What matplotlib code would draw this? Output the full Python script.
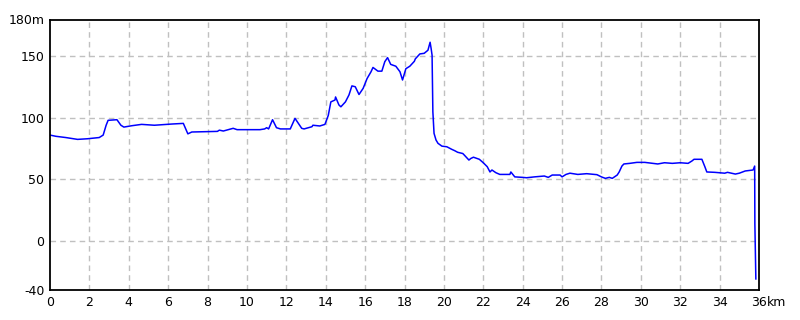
import matplotlib.pyplot as plt

# elevation profile: distance (km) vs altitude (m)
dist_km = [0.0, 0.3, 0.8, 1.4, 1.9, 2.5, 2.7, 2.85, 2.95, 3.4, 3.6, 3.75, 4.15, 4.65,
           5.3, 6.2, 6.77, 7.0, 7.2, 7.8, 8.5, 8.6, 8.8, 9.3, 9.5, 10.66, 10.9, 11.0,
           11.1, 11.3, 11.5, 11.7, 12.2, 12.44, 12.78, 12.9, 13.3, 13.35, 13.7, 13.96,
           14.13, 14.26, 14.47, 14.5, 14.67, 14.77, 15.0, 15.18, 15.33, 15.5, 15.69,
           15.9, 16.1, 16.3, 16.4, 16.65, 16.85, 17.0, 17.14, 17.3, 17.56, 17.77, 17.9,
           18.07, 18.27, 18.5, 18.55, 18.78, 19.0, 19.19, 19.3, 19.35, 19.4, 19.44,
           19.5, 19.6, 19.7, 19.9, 20.15, 20.4, 20.55, 20.7, 20.96, 21.05, 21.27, 21.37,
           21.5, 21.8, 22.0, 22.2, 22.34, 22.44, 22.64, 22.84, 23.35, 23.4, 23.5, 23.6,
           24.0, 24.2, 24.6, 25.1, 25.3, 25.5, 25.9, 26.0, 26.2, 26.4, 26.8, 27.25,
           27.77, 28.0, 28.2, 28.4, 28.55, 28.8, 28.9, 29.04, 29.14, 29.44, 29.8, 30.2,
           30.86, 31.2, 31.6, 32.0, 32.4, 32.6, 32.7, 33.1, 33.25, 33.35, 33.75, 34.26,
           34.4, 34.8, 35.0, 35.3, 35.7, 35.78, 35.79, 35.84]
alt_m = [86, 85, 84, 82.5, 83, 84, 86, 94, 98, 98.5, 94, 92.5, 93.6, 94.7,
         94, 95, 95.5, 87, 88.5, 88.7, 89, 90, 89.3, 91.5, 90.4, 90.4, 91, 92,
         91, 98.5, 92, 91, 91, 99.6, 91.5, 91, 92.8, 94, 93.4, 94.7,
         102, 113, 114.5, 117, 110.5, 109, 113, 118.6, 126, 125.3, 119,
         124, 132, 137.5, 141, 138, 138, 145.7, 149, 143.5, 142, 137.5, 130.8,
         140, 142, 146, 148, 152, 152.5, 155, 161.5, 156.6, 151, 105,
         87.4, 82, 79.3, 77, 76.5, 74.4, 73.3, 72, 71, 69.5, 65.7, 67,
         68, 66.3, 63.5, 60.3, 56, 57.6, 55.4, 54, 54, 56, 54, 52,
         51.6, 51.3, 52, 52.7, 51.6, 53.5, 53.5, 52, 54, 55, 54, 54.6,
         53.8, 52, 50.8, 51.6, 50.8, 53.5, 56, 60.8, 62.5, 63, 63.8, 63.8,
         62.5, 63.5, 63, 63.5, 63, 65, 66.3, 66.3, 60.3, 56, 55.7, 55,
         55.7, 54.3, 55, 56.8, 57.6, 60.8, 14, -31]

xticks = list(range(0, 37, 2))
xlabels = [str(v) for v in xticks]
yticks = [-40, 0, 50, 100, 150, 180]
ylabels = ["-40", "0", "50", "100", "150", "180m"]

plt.rcParams['font.family'] = ['Liberation Sans Narrow', 'DejaVu Sans']

fig = plt.figure(figsize=(8, 3.2), dpi=100)
ax = fig.add_axes([50/800, 30/320, 709/800, 270.5/320])

ax.plot(dist_km, alt_m, color="#0000FF", lw=1.1)

ax.set_xlim(0, 36)
ax.set_ylim(-40, 180)
ax.set_xticks(xticks)
ax.set_xticklabels(xlabels)
ax.set_yticks(yticks)
ax.set_yticklabels(ylabels)
ax.tick_params(length=0, labelsize=9, pad=4, colors="black")

# dashed grid, skipping the frame lines
for v in xticks[1:-1]:
    ax.axvline(v, color="#c0c0c0", lw=1, ls=(0, (4, 3)), zorder=0)
for v in [0, 50, 100, 150]:
    ax.axhline(v, color="#c0c0c0", lw=1, ls=(0, (4, 3)), zorder=0)

for s in ax.spines.values():
    s.set_linewidth(1.3)
    s.set_color("black")

# unit after the last x tick label
ax.annotate("km", xy=(1, 0), xycoords="axes fraction", xytext=(5.5, -4),
            textcoords="offset points", fontsize=9, ha="left", va="top")

fig.savefig("out.png", dpi=100)
